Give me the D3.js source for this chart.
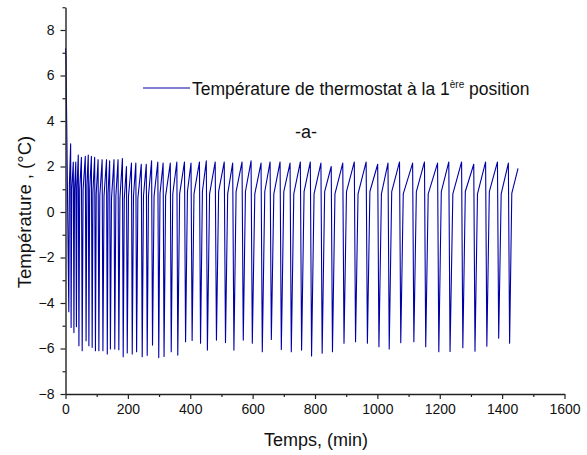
<!DOCTYPE html>
<html>
<head>
<meta charset="utf-8">
<script src="https://cdn.jsdelivr.net/npm/d3@7"></script>
<style>
  html, body { margin: 0; padding: 0; background: #fff; }
  svg { display: block; font-family: "Liberation Sans", Arial, sans-serif; }
</style>
</head>
<body>
<svg id="chart" width="587" height="455"></svg>
<script>
// ---- Data ----
// start of the record
const startTime = [0, 1.5];
const startTemp = [7.2, 6.8];
// cycle minima (time in min, temperature in °C)
const minTime = [10.6, 18, 27, 35, 43, 53.5, 66, 75, 85.5, 96, 107, 120, 134, 144, 158, 171, 185, 198, 214, 228, 246, 262, 279, 299, 316, 339, 360, 385, 406, 433, 455, 484, 513, 540, 570, 599, 631, 660, 692, 724, 757, 789, 823, 856, 893, 930, 968, 1005, 1038, 1075, 1117, 1155, 1197, 1233, 1274, 1313, 1351, 1389, 1424];
const minTemp = [-4.38, -5.08, -5.3, -5.04, -5.88, -6.1, -5.66, -5.88, -5.95, -6.1, -6.1, -6.1, -6.24, -6.02, -6.02, -6.05, -6.36, -6.2, -6.24, -6.14, -6.36, -6.3, -5.85, -6.4, -6.35, -6.14, -6.29, -5.7, -5.65, -5.77, -6.07, -5.63, -5.74, -6.07, -5.63, -5.77, -6.14, -5.6, -6.04, -6.14, -6.07, -6.33, -6.21, -6.14, -5.77, -5.7, -5.77, -5.92, -6.02, -5.75, -5.7, -5.92, -6.14, -6.13, -5.97, -6.12, -5.9, -5.55, -5.77];
// knee of each recovery (end of the fast rise)
const kneeTime = [12.5, 20, 29, 37, 45.5, 56.5, 68.5, 77.5, 88, 98.5, 110, 123.5, 136.5, 147.5, 161.5, 174.5, 188.5, 202, 218, 232, 250, 266, 284, 303, 321, 344, 366, 391, 412, 439, 462, 491, 520, 547, 577, 607, 639, 668, 700, 732, 765, 797, 831, 864, 901, 938, 976, 1013, 1046, 1083, 1125, 1163, 1205, 1242, 1282, 1321, 1359, 1397, 1431];
const kneeTemp = [1.2, 1.0, 1.0, 1.1, 1.0, 1.0, 1.2, 1.0, 0.9, 0.8, 0.7, 0.7, 0.8, 0.6, 0.7, 0.6, 0.6, 0.7, 0.7, 0.6, 0.7, 0.7, 0.7, 0.8, 0.7, 0.8, 0.8, 0.9, 0.8, 0.9, 0.8, 0.9, 0.8, 0.9, 0.9, 0.8, 0.9, 0.8, 0.9, 0.8, 0.9, 0.8, 0.9, 0.8, 0.9, 0.8, 0.9, 0.8, 0.9, 0.8, 0.9, 0.8, 0.9, 0.8, 0.9, 0.8, 0.9, 0.8, 0.82];
// peak of each cycle (last value is the end of the record)
const peakTime = [16.5, 25, 33, 41, 51, 63.5, 73, 83, 93.5, 104.5, 117.5, 131.5, 141.5, 155.5, 168.5, 182.5, 195.5, 211.5, 225.5, 243, 259, 276, 296, 313, 336, 357, 381.5, 402.5, 429.5, 451.5, 480, 509, 536, 566, 595, 627, 656, 688, 720, 753, 785, 819, 852, 889, 926, 964, 1001, 1034, 1071, 1113, 1151, 1193, 1229, 1270, 1309, 1347, 1385, 1420, 1451];
const peakTemp = [3.0, 2.2, 2.2, 2.5, 2.4, 2.45, 2.5, 2.45, 2.4, 2.3, 2.3, 2.3, 2.25, 2.3, 2.3, 2.35, 2.0, 2.15, 2.15, 2.1, 2.1, 2.25, 2.2, 2.15, 2.15, 2.2, 2.2, 2.15, 2.2, 2.25, 2.2, 2.2, 2.15, 2.2, 2.25, 2.15, 2.2, 2.2, 2.15, 2.2, 2.2, 2.15, 2.0, 2.15, 2.2, 2.2, 2.1, 2.15, 2.2, 2.15, 2.2, 2.15, 2.2, 2.2, 2.1, 2.2, 2.2, 2.15, 1.92];

const xTicks = [0, 200, 400, 600, 800, 1000, 1200, 1400, 1600];
const yTicks = [-8, -6, -4, -2, 0, 2, 4, 6, 8];
const xMinorTicks = [100, 300, 500, 700, 900, 1100, 1300, 1500];
const yMinorTicks = [-7, -5, -3, -1, 1, 3, 5, 7, 9];

const legendText = "Température de thermostat à la 1";
const legendSup = "ère";
const legendTail = " position";
const panelLabel = "-a-";
const xTitle = "Temps, (min)";
const yTitle = "Température , (°C)";

// ---- Build series ----
const series = [];
startTime.forEach((t, i) => series.push([t, startTemp[i]]));
minTime.forEach((t, i) => {
  series.push([t, minTemp[i]]);
  series.push([kneeTime[i], kneeTemp[i]]);
  series.push([peakTime[i], peakTemp[i]]);
});

// ---- Layout ----
const svg = d3.select("#chart");
const x = d3.scaleLinear().domain([0, 1600]).range([65.5, 564.5]);
const y = d3.scaleLinear().domain([-8, 9]).range([394, 7.25]);
const axisColor = "#222";

// data line
svg.append("path")
  .datum(series)
  .attr("fill", "none")
  .attr("stroke", "#0000a8")
  .attr("stroke-width", 1.1)
  .attr("stroke-linejoin", "round")
  .attr("d", d3.line().x(d => x(d[0])).y(d => y(d[1])));

// X axis
const gx = svg.append("g").attr("transform", `translate(0,${y(-8)})`);
gx.call(d3.axisBottom(x).tickValues(xTicks).tickSize(5).tickSizeOuter(0).tickPadding(5).tickFormat(d3.format("d")));
gx.append("g").call(d3.axisBottom(x).tickValues(xMinorTicks).tickSize(3).tickSizeOuter(0).tickFormat(""))
  .select(".domain").remove();

// Y axis
const gy = svg.append("g").attr("transform", `translate(${x(0)},0)`);
gy.call(d3.axisLeft(y).tickValues(yTicks).tickSize(5).tickSizeOuter(0).tickPadding(6).tickFormat(d3.format("d")));
gy.append("g").call(d3.axisLeft(y).tickValues(yMinorTicks).tickSize(3).tickSizeOuter(0).tickFormat(""))
  .select(".domain").remove();

svg.selectAll(".domain").attr("stroke", axisColor).attr("stroke-width", 1.4);
svg.selectAll(".tick line").attr("stroke", axisColor).attr("stroke-width", 1.2);
svg.selectAll(".tick text").attr("fill", "#111").style("font-size", "14px")
  .style("font-family", "'Liberation Sans', Arial, sans-serif");

// Axis titles
svg.append("text")
  .attr("x", 316).attr("y", 446)
  .attr("text-anchor", "middle")
  .style("font-size", "18px").attr("fill", "#111")
  .text(xTitle);

svg.append("text")
  .attr("transform", `translate(31,${y(0)}) rotate(-90)`)
  .attr("text-anchor", "middle")
  .style("font-size", "18.5px").attr("fill", "#111")
  .text(yTitle);

// Legend
svg.append("line")
  .attr("x1", 143).attr("x2", 190)
  .attr("y1", 88).attr("y2", 88)
  .attr("stroke", "#0000a8").attr("stroke-width", 1.1);
const lt = svg.append("text")
  .attr("x", 192).attr("y", 95)
  .style("font-size", "17.5px").attr("fill", "#111");
lt.append("tspan").text(legendText);
lt.append("tspan").attr("dy", -7).style("font-size", "10px").text(legendSup);
lt.append("tspan").attr("dy", 7).text(legendTail);

svg.append("text")
  .attr("x", 306).attr("y", 138)
  .attr("text-anchor", "middle")
  .style("font-size", "18px").attr("fill", "#111")
  .text(panelLabel);
</script>
</body>
</html>
